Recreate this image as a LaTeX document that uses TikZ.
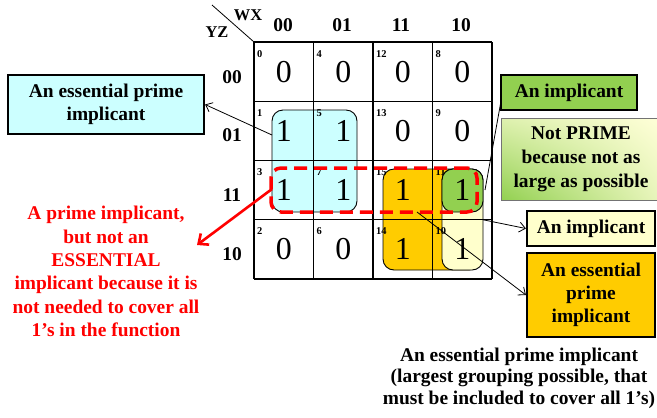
\documentclass[tikz,border=0pt]{standalone}
\usepackage{fontspec}
\setmainfont{Liberation Serif}
\usetikzlibrary{arrows.meta,shadings}
\definecolor{kcyan}{HTML}{CCFFFF}
\definecolor{kgreen}{HTML}{92D050}
\definecolor{kyellow}{HTML}{FFFFCC}
\definecolor{korange}{HTML}{FFCC00}
\definecolor{kred}{HTML}{FF0000}
\definecolor{kpale}{HTML}{FFFFD8}
\begin{document}
\begin{tikzpicture}[x=1bp,y=-1bp,
  lbl/.style={font=\fontsize{19.5}{23.4}\selectfont\bfseries, align=center, inner sep=0pt},
  hdr/.style={font=\fontsize{19.5}{22}\selectfont\bfseries, inner sep=0pt},
  cellnum/.style={font=\fontsize{10.5}{12}\selectfont\bfseries, inner sep=0pt, anchor=north west},
  celldig/.style={font=\fontsize{32}{36}\selectfont, inner sep=0pt},
  gridline/.style={line width=1.2bp, black},
  grp/.style={draw=black, line width=0.9bp, rounded corners=11bp, inner sep=0pt},
  callbox/.style={lbl, draw=black, line width=2.2bp},
  conn/.style={line width=0.8bp, black},
  tiparrow/.style={conn, -{Straight Barb[length=6bp,width=10bp]}},
  redarrow/.style={line width=2.6bp, kred, -{Straight Barb[length=8bp,width=14bp,line width=2.6bp]}}
]
\useasboundingbox (0,0) rectangle (657,417);

% groups below the grid
\node[grp, fill=kcyan, minimum width=85bp, minimum height=102bp] (cyanG) at (314.5,161) {};
\node[grp, fill=korange, minimum width=97bp, minimum height=101bp] (orangeG) at (431.5,219.5) {};
\node[grp, fill=kyellow, minimum width=41bp, minimum height=101bp] (yellowG) at (462.5,219.5) {};

% grid
\foreach \x in {254,313.5,373,432.5,492} \draw[gridline] (\x,42) -- (\x,279);
\foreach \y in {42,101.25,160.5,219.75,279} \draw[gridline] (254,\y) -- (492,\y);

% headers
\coordinate (g0) at (254,42);
\coordinate (dg) at (212,5);
\draw[line width=0.8bp] (dg) -- (g0);
\node[font=\fontsize{16.5}{18}\selectfont\bfseries, inner sep=0pt] (wx) at (248,15) {WX};
\node[font=\fontsize{16.5}{18}\selectfont\bfseries, inner sep=0pt] (yz) at (217,32) {YZ};
\node[hdr] (c00) at (283,25.5) {00};
\node[hdr] (c01) at (342,25.5) {01};
\node[hdr] (c11) at (401,25.5) {11};
\node[hdr] (c10) at (461,25.5) {10};
\node[hdr] (r00) at (232,77) {00};
\node[hdr] (r01) at (232,135) {01};
\node[hdr] (r11) at (232,195) {11};
\node[hdr] (r10) at (232,254.5) {10};

% cells
\foreach \x/\y/\n/\v in {254/42/0/0, 313.5/42/4/0, 373/42/12/0, 432.5/42/8/0,
  254/101.25/1/1, 313.5/101.25/5/1, 373/101.25/13/0, 432.5/101.25/9/0,
  254/160.5/3/1, 313.5/160.5/7/1, 373/160.5/15/1,
  254/219.75/2/0, 313.5/219.75/6/0, 373/219.75/14/1, 432.5/219.75/10/1}{
  \node[cellnum] (n\n) at (\x+3,\y+8) {\n};
  \node[celldig] (d\n) at (\x+29.75,\y+29.6) {\v};
}
\node[cellnum] (n11) at (435.5,168.5) {11};

% green group on top
\node[grp, fill=kgreen, minimum width=41bp, minimum height=43bp] (greenG) at (462.5,190.5) {};
\node[celldig] (d11) at (462.25,190.1) {1};

% red dashed group
\node[draw=kred, line width=3.5bp, dash pattern=on 13bp off 7bp, rounded corners=10bp,
  minimum width=206bp, minimum height=44bp, inner sep=0pt] (redG) at (374,190) {};

% callout boxes
\node[callbox, fill=kcyan, minimum width=196bp, minimum height=59bp] (cyanBox) at (106,104.5)
  {An essential prime\\implicant};
\node[callbox, fill=kgreen, minimum width=136bp, minimum height=35bp] (greenBox) at (569,92.5)
  {An implicant};
\node[lbl, draw=black!55, line width=0.6bp, minimum width=160bp, minimum height=82bp,
  upper left=kgreen!30!kpale, upper right=kpale, lower left=kgreen, lower right=kgreen!20!kpale,
  font=\fontsize{19.5}{24}\selectfont\bfseries] (npBox) at (581,159)
  {Not PRIME\\because not as\\large as possible};
\node[callbox, fill=kyellow, minimum width=128bp, minimum height=35bp] (yellowBox) at (591,228.5)
  {An implicant};
\node[callbox, fill=korange, minimum width=128bp, minimum height=84bp] (orangeBox) at (591,295)
  {An essential\\prime\\implicant};

\node[lbl, text=kred] (redText) at (106,271.5)
  {A prime implicant,\\but not an\\ESSENTIAL\\implicant because it is\\not needed to cover all\\1’s in the function};
\node[lbl, font=\fontsize{19.5}{21.7}\selectfont\bfseries] (bottomText) at (519,378)
  {An essential prime implicant\\(largest grouping possible, that\\must be included to cover all 1’s)};

% connectors
\coordinate (a1) at (272,135);
\draw[tiparrow] (a1) -- (cyanBox.east);
\coordinate (a2) at (485,190);
\coordinate (a2t) at (501,101);
\draw[conn] (a2) -- (a2t);
\coordinate (a3) at (483,219.75);
\draw[tiparrow] (a3) -- (yellowBox.west);
\coordinate (a4) at (417,212);
\draw[tiparrow] (a4) -- (orangeBox.west);
\coordinate (a5) at (272,189);
\coordinate (a5t) at (197,245);
\draw[redarrow] (a5) -- (a5t);
\end{tikzpicture}
\end{document}
